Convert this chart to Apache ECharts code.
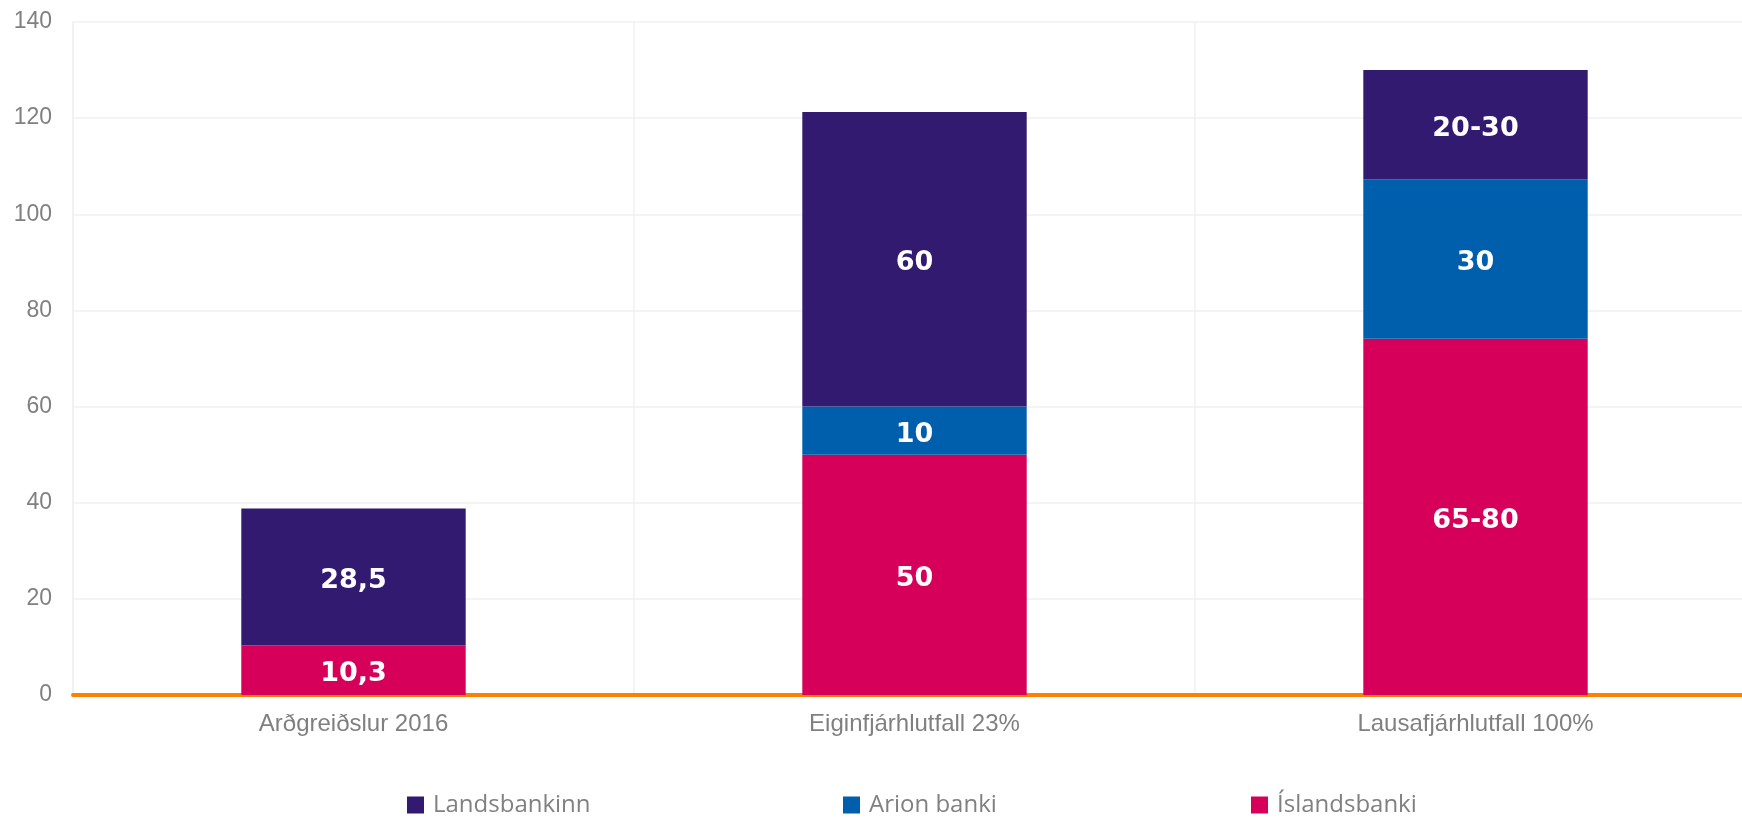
<!DOCTYPE html>
<html>
<head>
<meta charset="utf-8">
<script src="https://cdn.jsdelivr.net/npm/echarts@6/dist/echarts.min.js"></script>
<style>html,body{margin:0;padding:0;background:#fff}#c{width:1742px;height:818px}</style>
</head>
<body>
<div id="c"></div>
<script>
const categories = ['Arðgreiðslur 2016', 'Eiginfjárhlutfall 23%', 'Lausafjárhlutfall 100%'];
const islandsbanki = [10.3, 50, 74.1];
const arion = [null, 10, 33.2];
const landsbankinn = [28.5, 61.3, 22.7];
const islandsbankiLabels = ['10,3', '50', '65-80'];
const arionLabels = ['', '10', '30'];
const landsbankinnLabels = ['28,5', '60', '20-30'];
const yTicks = [0, 20, 40, 60, 80, 100, 120, 140];
const legendNames = ['Landsbankinn', 'Arion banki', 'Íslandsbanki'];

const labelStyle = (labels) => ({
  show: true, position: 'inside', color: '#fff', fontFamily: 'DejaVu Sans', fontWeight: 'bold', fontSize: 27,
  offset: [0, 4],
  formatter: p => labels[p.dataIndex]
});

const legendLefts = [407, 843, 1251];
const legends = legendNames.map((n, i) => ({
  top: 792, left: legendLefts[i], padding: 0, itemWidth: 17, itemHeight: 17, icon: 'rect',
  textStyle: { fontFamily: 'Open Sans', fontSize: 24, lineHeight: 26, color: '#808080', padding: [0, 0, 0, 4] },
  data: [n]
}));

const chart = echarts.init(document.getElementById('c'));
chart.setOption({
  animation: false,
  grid: { left: 73, width: 1683, top: 22, bottom: 123, outerBoundsMode: 'none', containLabel: false },
  legend: legends,
  xAxis: {
    type: 'category', data: categories,
    axisLine: { lineStyle: { color: '#ff7f00', width: 4 } },
    axisTick: { show: false },
    splitLine: { show: true, lineStyle: { color: '#f0f0f0', width: 1.5 } },
    axisLabel: { fontFamily: 'Liberation Sans', fontSize: 24, color: '#808080', margin: 17 }
  },
  yAxis: {
    type: 'value', min: yTicks[0], max: yTicks[yTicks.length - 1], interval: 20,
    axisLine: { show: true, lineStyle: { color: '#f0f0f0', width: 1.5 } },
    axisTick: { show: false },
    splitLine: { lineStyle: { color: '#f0f0f0', width: 1.5 } },
    axisLabel: { fontFamily: 'Liberation Sans', fontSize: 23, color: '#808080', margin: 21 }
  },
  series: [
    { name: 'Íslandsbanki', type: 'bar', stack: 's', barWidth: '40%', data: islandsbanki,
      itemStyle: { color: '#d6005a' }, label: labelStyle(islandsbankiLabels), z: 3 },
    { name: 'Arion banki', type: 'bar', stack: 's', data: arion,
      itemStyle: { color: '#005fad' }, label: labelStyle(arionLabels), z: 3 },
    { name: 'Landsbankinn', type: 'bar', stack: 's', data: landsbankinn,
      itemStyle: { color: '#321a71' }, label: labelStyle(landsbankinnLabels), z: 3 }
  ]
});
</script>
</body>
</html>
